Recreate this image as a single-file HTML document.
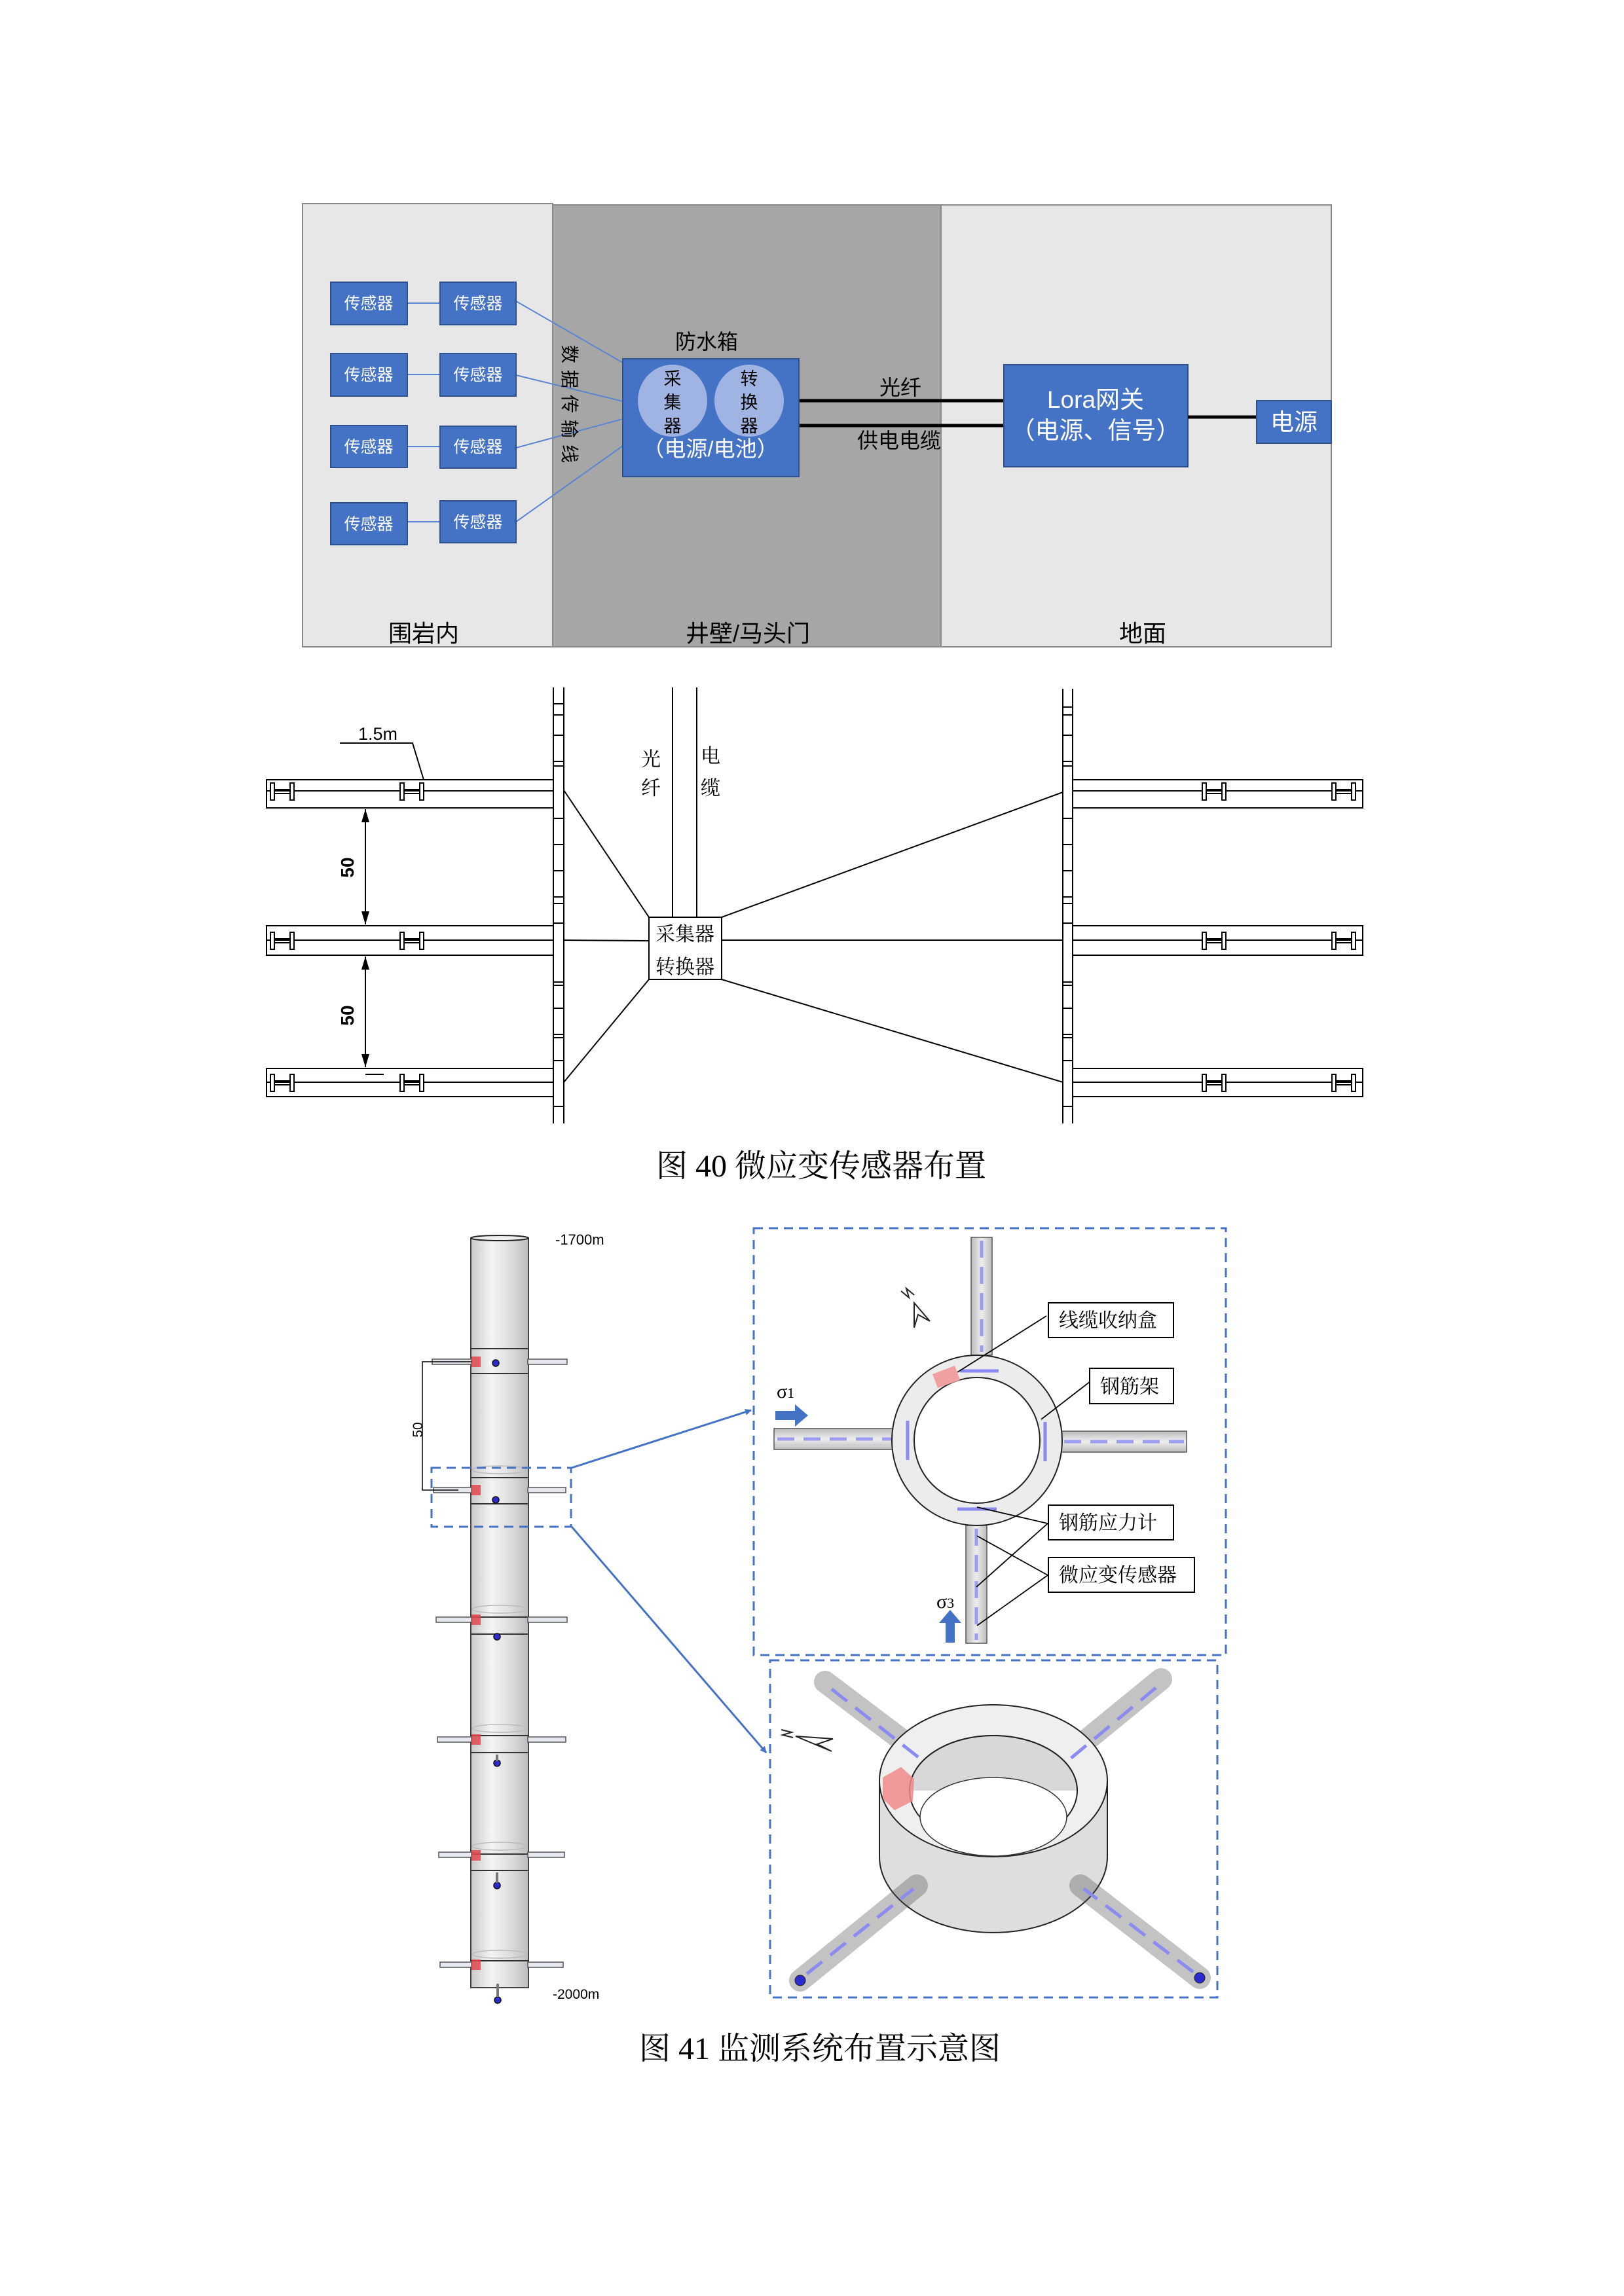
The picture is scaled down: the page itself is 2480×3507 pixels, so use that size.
<!DOCTYPE html>
<html><head><meta charset="utf-8">
<style>
html,body{margin:0;padding:0;background:#fff;}
svg{display:block;}
.cn{font-family:"Liberation Sans","Noto Sans CJK SC",sans-serif;}
.sf{font-family:"Liberation Serif","Noto Serif CJK SC",serif;}
</style></head>
<body>
<svg width="2480" height="3507" viewBox="0 0 2480 3507" xmlns="http://www.w3.org/2000/svg">
<defs>
<linearGradient id="cyl" x1="0" x2="1" y1="0" y2="0">
<stop offset="0" stop-color="#c8c8c8"/><stop offset="0.35" stop-color="#f4f4f4"/><stop offset="0.7" stop-color="#dcdcdc"/><stop offset="1" stop-color="#bdbdbd"/>
</linearGradient>
<linearGradient id="rodv" x1="0" x2="1" y1="0" y2="0">
<stop offset="0" stop-color="#bbb"/><stop offset="0.5" stop-color="#eee"/><stop offset="1" stop-color="#bbb"/>
</linearGradient>
<linearGradient id="rodh" x1="0" x2="0" y1="0" y2="1">
<stop offset="0" stop-color="#bbb"/><stop offset="0.5" stop-color="#eee"/><stop offset="1" stop-color="#bbb"/>
</linearGradient>
<marker id="ar" markerWidth="10" markerHeight="10" refX="9" refY="5" orient="auto" markerUnits="userSpaceOnUse"><path d="M0,0 L10,5 L0,10 z" fill="#4472c4"/></marker>
<marker id="ab" markerWidth="20" markerHeight="12" refX="20" refY="6" orient="auto-start-reverse" markerUnits="userSpaceOnUse"><path d="M0,0 L20,6 L0,12 z" fill="#000"/></marker>
<g id="hs" stroke="#000" stroke-width="2" fill="#fff">
<rect x="0" y="-12" width="6" height="26"/><rect x="30" y="-12" width="6" height="26"/>
<line x1="6" y1="-2" x2="30" y2="-2"/><line x1="6" y1="4" x2="30" y2="4"/>
</g>
</defs>

<!-- ============ TOP DIAGRAM ============ -->
<rect x="462" y="311" width="382" height="677" fill="#e7e7e7" stroke="#8a8a8a" stroke-width="2"/>
<rect x="844" y="313" width="593" height="675" fill="#a6a6a6" stroke="#8a8a8a" stroke-width="2"/>
<rect x="1437" y="313" width="596" height="675" fill="#e7e7e7" stroke="#8a8a8a" stroke-width="2"/>

<g class="cn" font-size="25" fill="#fff" text-anchor="middle">
<g stroke="#5b85d0" stroke-width="2">
<line x1="622" y1="463" x2="672" y2="463"/><line x1="622" y1="572" x2="672" y2="572"/>
<line x1="622" y1="682" x2="672" y2="682"/><line x1="622" y1="797" x2="672" y2="797"/>
<line x1="788" y1="460" x2="951" y2="554"/><line x1="788" y1="573" x2="951" y2="613"/>
<line x1="788" y1="684" x2="951" y2="640"/><line x1="788" y1="797" x2="951" y2="681"/>
</g>
<g fill="#4472c4" stroke="#2f528f" stroke-width="2">
<rect x="505" y="431" width="117" height="65"/><rect x="672" y="431" width="116" height="65"/>
<rect x="505" y="540" width="117" height="65"/><rect x="672" y="540" width="116" height="65"/>
<rect x="505" y="650" width="117" height="64"/><rect x="672" y="651" width="116" height="64"/>
<rect x="505" y="768" width="117" height="64"/><rect x="672" y="765" width="116" height="64"/>
</g>
<text x="563" y="472">传感器</text><text x="730" y="472">传感器</text>
<text x="563" y="581">传感器</text><text x="730" y="581">传感器</text>
<text x="563" y="691">传感器</text><text x="730" y="691">传感器</text>
<text x="563" y="809">传感器</text><text x="730" y="806">传感器</text>
</g>

<text class="cn" transform="translate(860,622) rotate(90)" font-size="28" text-anchor="middle" letter-spacing="10">数据传输线</text>
<text class="cn" x="1079" y="533" font-size="32" text-anchor="middle">防水箱</text>
<rect x="951" y="548" width="269" height="180" fill="#4472c4" stroke="#2f528f" stroke-width="2"/>
<ellipse cx="1027" cy="612" rx="53" ry="55" fill="#9fb4e2"/>
<ellipse cx="1144" cy="612" rx="53" ry="55" fill="#9fb4e2"/>
<g class="cn" font-size="27" fill="#000" text-anchor="middle">
<text x="1027" y="588">采</text><text x="1027" y="624">集</text><text x="1027" y="660">器</text>
<text x="1144" y="588">转</text><text x="1144" y="624">换</text><text x="1144" y="660">器</text>
</g>
<text class="cn" x="1085" y="697" font-size="33" fill="#fff" text-anchor="middle">（电源/电池）</text>
<line x1="1221" y1="612" x2="1532" y2="612" stroke="#000" stroke-width="5"/>
<line x1="1221" y1="650" x2="1532" y2="650" stroke="#000" stroke-width="5"/>
<text class="cn" x="1375" y="603" font-size="32" text-anchor="middle">光纤</text>
<text class="cn" x="1373" y="684" font-size="32" text-anchor="middle">供电电缆</text>
<rect x="1533" y="557" width="281" height="156" fill="#4472c4" stroke="#2f528f" stroke-width="2"/>
<text class="cn" x="1673" y="623" font-size="37" fill="#fff" text-anchor="middle">Lora网关</text>
<text class="cn" x="1673" y="670" font-size="37" fill="#fff" text-anchor="middle">（电源、信号）</text>
<line x1="1814" y1="637" x2="1919" y2="637" stroke="#000" stroke-width="5"/>
<rect x="1919" y="612" width="114" height="65" fill="#4472c4" stroke="#2f528f" stroke-width="2"/>
<text class="cn" x="1976" y="657" font-size="36" fill="#fff" text-anchor="middle">电源</text>
<g class="cn" font-size="36" text-anchor="middle">
<text x="647" y="980">围岩内</text><text x="1142" y="980">井壁/马头门</text><text x="1745" y="980">地面</text>
</g>

<!-- ============ MIDDLE DIAGRAM ============ -->
<g stroke="#000" stroke-width="2" fill="none">
<line x1="845" y1="1050" x2="845" y2="1716"/><line x1="861" y1="1050" x2="861" y2="1716"/>
<line x1="1623" y1="1052" x2="1623" y2="1716"/><line x1="1638" y1="1052" x2="1638" y2="1716"/>
<line x1="1027" y1="1050" x2="1027" y2="1401"/><line x1="1064" y1="1050" x2="1064" y2="1401"/>
<rect x="991" y="1401" width="111" height="95" fill="#fff"/>
<line x1="991" y1="1401" x2="861" y2="1207"/><line x1="991" y1="1437" x2="861" y2="1436"/><line x1="991" y1="1496" x2="861" y2="1653"/>
<line x1="1102" y1="1401" x2="1623" y2="1210"/><line x1="1102" y1="1436" x2="1623" y2="1436"/><line x1="1102" y1="1496" x2="1623" y2="1653"/>
<rect x="407" y="1191" width="438" height="43"/><line x1="407" y1="1208" x2="845" y2="1208"/>
<rect x="407" y="1414" width="438" height="45"/><line x1="407" y1="1436" x2="845" y2="1436"/>
<rect x="407" y="1632" width="438" height="43"/><line x1="407" y1="1653" x2="845" y2="1653"/>
<rect x="1638" y="1191" width="443" height="43"/><line x1="1638" y1="1208" x2="2081" y2="1208"/>
<rect x="1638" y="1414" width="443" height="45"/><line x1="1638" y1="1436" x2="2081" y2="1436"/>
<rect x="1638" y="1632" width="443" height="43"/><line x1="1638" y1="1653" x2="2081" y2="1653"/>
<line x1="558" y1="1236" x2="558" y2="1412" marker-start="url(#ab)" marker-end="url(#ab)"/>
<line x1="558" y1="1461" x2="558" y2="1630" marker-start="url(#ab)" marker-end="url(#ab)"/>
<line x1="558" y1="1641" x2="586" y2="1641"/>
<polyline points="519,1135 630,1135 647,1191"/>
</g>
<use href="#hs" x="413" y="1208"/><use href="#hs" x="611" y="1208"/>
<use href="#hs" x="413" y="1436"/><use href="#hs" x="611" y="1436"/>
<use href="#hs" x="413" y="1653"/><use href="#hs" x="611" y="1653"/>
<use href="#hs" x="1836" y="1208"/><use href="#hs" x="2034" y="1208"/>
<use href="#hs" x="1836" y="1436"/><use href="#hs" x="2034" y="1436"/>
<use href="#hs" x="1836" y="1653"/><use href="#hs" x="2034" y="1653"/>
<g stroke="#000" stroke-width="2">
<path d="M845 1075h16M845 1092h16M845 1123h16M845 1163h16M845 1170h16M845 1250h16M845 1290h16M845 1330h16M845 1370h16M845 1380h16M845 1410h16M845 1500h16M845 1505h16M845 1540h16M845 1580h16M845 1585h16M845 1620h16M845 1690h16"/>
<path d="M1623 1080h15M1623 1092h15M1623 1123h15M1623 1163h15M1623 1170h15M1623 1250h15M1623 1290h15M1623 1330h15M1623 1370h15M1623 1380h15M1623 1410h15M1623 1500h15M1623 1505h15M1623 1540h15M1623 1580h15M1623 1585h15M1623 1620h15M1623 1690h15"/>
</g>
<g class="cn" font-size="28">
<text x="547" y="1130" font-size="27">1.5m</text>
<text transform="translate(540,1325) rotate(-90)" text-anchor="middle" font-weight="bold">50</text>
<text transform="translate(540,1551) rotate(-90)" text-anchor="middle" font-weight="bold">50</text>
</g>
<g class="sf" font-size="30" text-anchor="middle">
<text x="994" y="1170">光</text><text x="994" y="1214">纤</text>
<text x="1085" y="1165">电</text><text x="1085" y="1214">缆</text>
<text x="1046" y="1437">采集器</text><text x="1046" y="1487">转换器</text>
</g>
<text class="sf" x="1254" y="1797" font-size="48" text-anchor="middle">图 40  微应变传感器布置</text>

<!-- ============ BOTTOM FIGURE ============ -->
<rect x="719" y="1891" width="88" height="1145" fill="url(#cyl)" stroke="#444" stroke-width="2"/>
<ellipse cx="763" cy="1891" rx="44" ry="4" fill="#eee" stroke="#222" stroke-width="2"/>
<g stroke="#333" stroke-width="2" fill="none">
<line x1="719" y1="2060" x2="807" y2="2060"/><line x1="719" y1="2098" x2="807" y2="2098"/>
<line x1="719" y1="2257" x2="807" y2="2257"/><line x1="719" y1="2297" x2="807" y2="2297"/>
<line x1="719" y1="2470" x2="807" y2="2470"/><line x1="719" y1="2496" x2="807" y2="2496"/>
<line x1="719" y1="2651" x2="807" y2="2651"/><line x1="719" y1="2677" x2="807" y2="2677"/>
<line x1="719" y1="2832" x2="807" y2="2832"/><line x1="719" y1="2857" x2="807" y2="2857"/>
<line x1="719" y1="2995" x2="807" y2="2995"/>
</g>
<g stroke="#bbb" stroke-width="1.5" fill="none">
<ellipse cx="763" cy="2245" rx="42" ry="6"/><ellipse cx="763" cy="2458" rx="42" ry="6"/><ellipse cx="763" cy="2640" rx="42" ry="6"/><ellipse cx="763" cy="2820" rx="42" ry="6"/><ellipse cx="763" cy="2985" rx="42" ry="6"/>
</g>
<g fill="#e6e8f0" stroke="#555" stroke-width="1.5">
<rect x="660" y="2076" width="60" height="8"/><rect x="806" y="2076" width="60" height="8"/>
<rect x="662" y="2272" width="58" height="8"/><rect x="806" y="2272" width="58" height="8"/>
<rect x="666" y="2470" width="54" height="8"/><rect x="806" y="2470" width="60" height="8"/>
<rect x="668" y="2653" width="52" height="8"/><rect x="806" y="2653" width="58" height="8"/>
<rect x="670" y="2829" width="50" height="8"/><rect x="806" y="2829" width="56" height="8"/>
<rect x="672" y="2997" width="48" height="8"/><rect x="806" y="2997" width="54" height="8"/>
</g>
<g fill="#e0474c" opacity="0.85">
<rect x="720" y="2072" width="14" height="16"/><rect x="720" y="2268" width="14" height="16"/><rect x="720" y="2466" width="14" height="16"/><rect x="720" y="2649" width="14" height="16"/><rect x="720" y="2826" width="14" height="16"/><rect x="720" y="2993" width="14" height="16"/>
</g>
<g fill="#2a2ad0" stroke="#111" stroke-width="1.5">
<circle cx="757" cy="2082" r="5"/><circle cx="757" cy="2291" r="5"/><circle cx="759" cy="2500" r="5"/><circle cx="759" cy="2693" r="5"/><circle cx="759" cy="2880" r="5"/><circle cx="760" cy="3055" r="5"/>
</g>
<g stroke="#777" stroke-width="4">
<line x1="759" y1="2860" x2="759" y2="2876"/><line x1="760" y1="3030" x2="760" y2="3050"/><line x1="759" y1="2680" x2="759" y2="2690"/>
</g>
<text class="cn" x="848" y="1901" font-size="22">-1700m</text>
<text class="cn" x="844" y="3053" font-size="21">-2000m</text>
<polyline points="720,2080 645,2080 645,2276 700,2276" stroke="#000" stroke-width="1.5" fill="none"/>
<text class="cn" transform="translate(645,2184) rotate(-90)" font-size="21" text-anchor="middle">50</text>
<rect x="659" y="2242" width="213" height="90" fill="none" stroke="#4472c4" stroke-width="3" stroke-dasharray="14 9"/>
<line x1="873" y1="2242" x2="1147" y2="2154" stroke="#4472c4" stroke-width="3" marker-end="url(#ar)"/>
<line x1="873" y1="2332" x2="1170" y2="2677" stroke="#4472c4" stroke-width="3" marker-end="url(#ar)"/>

<rect x="1151" y="1876" width="721" height="652" fill="none" stroke="#4472c4" stroke-width="3" stroke-dasharray="14 9"/>
<rect x="1483" y="1890" width="32" height="180" fill="url(#rodv)" stroke="#555" stroke-width="1.5"/>
<rect x="1475" y="2330" width="32" height="180" fill="url(#rodv)" stroke="#555" stroke-width="1.5"/>
<rect x="1182" y="2182" width="185" height="32" fill="url(#rodh)" stroke="#555" stroke-width="1.5"/>
<rect x="1620" y="2186" width="192" height="32" fill="url(#rodh)" stroke="#555" stroke-width="1.5"/>
<g stroke="#9c9cf0" stroke-width="5" stroke-dasharray="26 14">
<line x1="1499" y1="1895" x2="1499" y2="2065"/><line x1="1491" y1="2335" x2="1491" y2="2505"/>
<line x1="1187" y1="2198" x2="1362" y2="2198"/><line x1="1625" y1="2202" x2="1808" y2="2202"/>
</g>
<circle cx="1492" cy="2200" r="130" fill="#ececec" stroke="#222" stroke-width="2"/>
<circle cx="1492" cy="2200" r="96" fill="#fff" stroke="#222" stroke-width="2"/>
<path d="M1424 2099 L1458 2086 L1466 2108 L1432 2120 z" fill="#f0a0a0"/>
<g stroke="#8a8af0" stroke-width="5">
<line x1="1466" y1="2094" x2="1525" y2="2094"/><line x1="1462" y1="2305" x2="1522" y2="2305"/>
<line x1="1386" y1="2170" x2="1386" y2="2230"/><line x1="1596" y1="2172" x2="1596" y2="2232"/>
</g>
<g stroke="#000" stroke-width="1.8" fill="none">
<line x1="1462" y1="2096" x2="1598" y2="2010"/>
<line x1="1590" y1="2168" x2="1665" y2="2110"/>
<line x1="1492" y1="2302" x2="1600" y2="2327"/>
<line x1="1600" y1="2327" x2="1491" y2="2424"/>
<line x1="1492" y1="2346" x2="1600" y2="2406"/>
<line x1="1600" y1="2406" x2="1492" y2="2483"/>
</g>
<g fill="#fff" stroke="#000" stroke-width="2">
<rect x="1601" y="1990" width="191" height="53"/>
<rect x="1664" y="2090" width="128" height="54"/>
<rect x="1601" y="2299" width="191" height="53"/>
<rect x="1601" y="2379" width="223" height="53"/>
</g>
<g class="sf" font-size="30">
<text x="1617" y="2027">线缆收纳盒</text>
<text x="1680" y="2128">钢筋架</text>
<text x="1617" y="2336">钢筋应力计</text>
<text x="1617" y="2416">微应变传感器</text>
<text x="1186" y="2135">σ<tspan font-size="22">1</tspan></text>
<text x="1430" y="2456">σ<tspan font-size="22">3</tspan></text>
</g>
<path d="M1184 2155 h30 v-10 l20 17 l-20 17 v-10 h-30 z" fill="#4472c4"/>
<path d="M1444 2509 v-30 h-10 l17 -20 l17 20 h-10 v30 z" fill="#4472c4"/>
<g stroke="#222" stroke-width="2" fill="none">
<path d="M1376 1972 l12 10 l-4 -14 l12 10"/>
<path d="M1396 1990 L1420 2018 L1402 2008 L1396 2028 Z"/>
</g>

<rect x="1176" y="2536" width="683" height="515" fill="none" stroke="#4472c4" stroke-width="3" stroke-dasharray="14 9"/>
<g stroke="#555" stroke-width="1.5">
<line x1="1260" y1="2569" x2="1420" y2="2690" stroke-width="34" stroke-linecap="round" opacity="0.35"/>
<line x1="1773" y1="2565" x2="1620" y2="2690" stroke-width="34" stroke-linecap="round" opacity="0.35"/>
</g>
<path d="M1343 2720 L1343 2836 A174 116 0 0 0 1691 2836 L1691 2720 Z" fill="#dedede" stroke="#222" stroke-width="2"/>
<ellipse cx="1517" cy="2720" rx="174" ry="116" fill="#efefef" stroke="#222" stroke-width="2"/>
<ellipse cx="1517" cy="2735" rx="128" ry="84" fill="#fff" stroke="#222" stroke-width="2"/>
<path d="M1389 2735 A128 84 0 0 1 1645 2735" fill="#d8d8d8" stroke="#222" stroke-width="2"/>
<ellipse cx="1517" cy="2775" rx="112" ry="60" fill="#fff" stroke="#333" stroke-width="1.5"/>
<path d="M1348 2715 l28 -16 l20 18 l-2 34 l-28 14 l-18 -18 z" fill="#f08a8a" opacity="0.85"/>
<g stroke="#555" stroke-width="1.5">
<line x1="1222" y1="3025" x2="1400" y2="2880" stroke-width="34" stroke-linecap="round" opacity="0.35"/>
<line x1="1832" y1="3021" x2="1650" y2="2880" stroke-width="34" stroke-linecap="round" opacity="0.35"/>
</g>
<g stroke="#8a8af0" stroke-width="5" stroke-dasharray="30 16">
<line x1="1270" y1="2580" x2="1410" y2="2690"/><line x1="1765" y1="2578" x2="1630" y2="2690"/>
<line x1="1232" y1="3015" x2="1395" y2="2885"/><line x1="1822" y1="3012" x2="1655" y2="2885"/>
</g>
<circle cx="1222" cy="3025" r="8" fill="#2a2ad0" stroke="#222"/>
<circle cx="1832" cy="3021" r="8" fill="#2a2ad0" stroke="#222"/>
<g stroke="#222" stroke-width="2" fill="none">
<path d="M1193 2642 l16 4 l-14 4 l16 4"/>
<path d="M1215 2652 L1272 2656 L1248 2664 L1270 2675 Z"/>
</g>

<text class="sf" x="1252" y="3145" font-size="48" text-anchor="middle">图 41  监测系统布置示意图</text>
</svg>
</body></html>
